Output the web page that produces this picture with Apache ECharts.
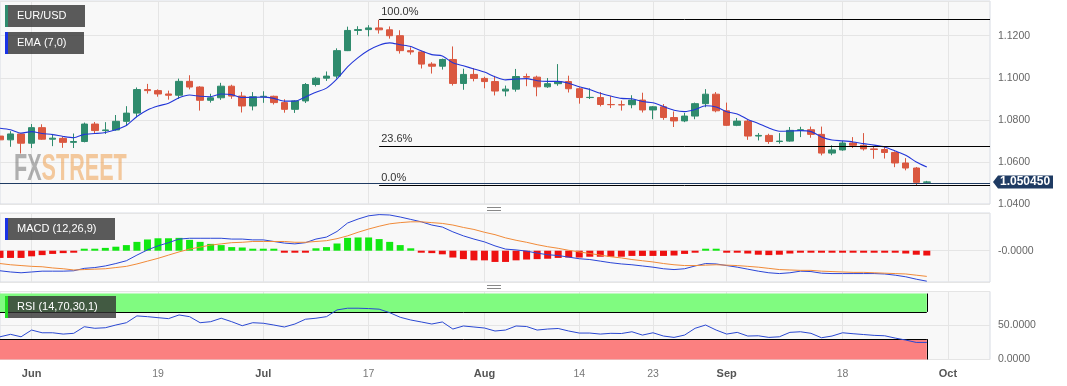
<!DOCTYPE html>
<html><head><meta charset="utf-8">
<script src="https://cdn.jsdelivr.net/npm/echarts@6.0.0/dist/echarts.min.js"></script>
<style>html,body{margin:0;padding:0;background:#fff;}#c{width:1067px;height:386px;}</style>
</head><body><div id="c"></div>
<script>
// ---- data ----
const categories = ['05-29','05-30','05-31','06-01','06-02','06-05','06-06','06-07','06-08','06-09','06-12','06-13','06-14','06-15','06-16','06-19','06-20','06-21','06-22','06-23','06-26','06-27','06-28','06-29','06-30','07-03','07-04','07-05','07-06','07-07','07-10','07-11','07-12','07-13','07-14','07-17','07-18','07-19','07-20','07-21','07-24','07-25','07-26','07-27','07-28','07-31','08-01','08-02','08-03','08-04','08-07','08-08','08-09','08-10','08-11','08-14','08-15','08-16','08-17','08-18','08-21','08-22','08-23','08-24','08-25','08-28','08-29','08-30','08-31','09-01','09-04','09-05','09-06','09-07','09-08','09-11','09-12','09-13','09-14','09-15','09-18','09-19','09-20','09-21','09-22','09-25','09-26','09-27','09-28','09-29','10-02','10-03','10-04','10-05','10-06'];
const tickDates = ['06-01','06-19','07-03','07-17','08-01','08-14','08-23','09-01','09-18','10-02'];
const tickLabels = ['Jun','19','Jul','17','Aug','14','23','Sep','18','Oct'];

const opens = [1.0723,1.0705,1.0733,1.0689,1.0763,1.0708,1.0712,1.0693,1.0697,1.0780,
1.0749,1.0752,1.0793,1.0832,1.0944,1.0939,1.0923,1.0917,1.0983,1.0956,
1.0893,1.0905,1.0960,1.0913,1.0866,1.0910,1.0912,1.0882,1.0850,1.0890,
1.0968,1.0998,1.1008,1.1129,1.1225,1.1229,1.1237,1.1228,1.1200,1.1129,
1.1123,1.1065,1.1055,1.1087,1.0973,1.1016,1.0997,1.0982,1.0937,1.0946,
1.1006,1.1003,1.0957,1.0972,1.0982,1.0948,1.0906,1.0906,1.0873,1.0872,
1.0872,1.0894,1.0847,1.0862,1.0811,1.0795,1.0818,1.0877,1.0922,1.0843,
1.0774,1.0794,1.0723,1.0726,1.0697,1.0699,1.0750,1.0753,1.0731,1.0642,
1.0657,1.0690,1.0679,1.0662,1.0659,1.0645,1.0595,1.0571,1.0503];
const closes = [1.0705,1.0733,1.0689,1.0763,1.0708,1.0713,1.0693,1.0697,1.0780,1.0749,
1.0752,1.0793,1.0832,1.0944,1.0939,1.0923,1.0917,1.0983,1.0956,1.0893,
1.0905,1.0960,1.0913,1.0866,1.0910,1.0912,1.0882,1.0850,1.0890,1.0968,
1.0998,1.1008,1.1129,1.1225,1.1229,1.1237,1.1228,1.1200,1.1129,1.1123,
1.1065,1.1055,1.1087,1.0973,1.1016,1.0997,1.0982,1.0937,1.0946,1.1006,
1.1003,1.0957,1.0972,1.0982,1.0948,1.0906,1.0907,1.0873,1.0872,1.0871,
1.0894,1.0847,1.0862,1.0811,1.0795,1.0818,1.0877,1.0922,1.0843,1.0774,
1.0794,1.0723,1.0726,1.0697,1.0699,1.0750,1.0753,1.0731,1.0642,1.0657,
1.0690,1.0679,1.0662,1.0659,1.0645,1.0595,1.0571,1.0503,1.0505];
const lows = [1.0703,1.0672,1.0640,1.0666,1.0705,1.0675,1.0667,1.0666,1.0693,1.0735,
1.0733,1.0749,1.0772,1.0812,1.0925,1.0910,1.0896,1.0900,1.0945,1.0844,
1.0882,1.0895,1.0900,1.0835,1.0845,1.0881,1.0873,1.0834,1.0833,1.0880,
1.0959,1.0985,1.0996,1.1127,1.1204,1.1197,1.1210,1.1186,1.1115,1.1110,
1.1044,1.1020,1.1039,1.0963,1.0943,1.0983,1.0950,1.0916,1.0912,1.0934,
1.0960,1.0912,1.0952,1.0962,1.0930,1.0877,1.0899,1.0864,1.0856,1.0844,
1.0855,1.0835,1.0803,1.0800,1.0766,1.0789,1.0803,1.0860,1.0836,1.0771,
1.0770,1.0705,1.0702,1.0686,1.0687,1.0696,1.0718,1.0715,1.0631,1.0632,
1.0653,1.0666,1.0654,1.0615,1.0616,1.0575,1.0560,1.0488,1.0496];
const highs = [1.0746,1.0746,1.0736,1.0780,1.0779,1.0733,1.0720,1.0735,1.0787,1.0790,
1.0789,1.0823,1.0865,1.0954,1.0971,1.0945,1.0939,1.0996,1.1012,1.0960,
1.0924,1.0976,1.0967,1.0933,1.0932,1.0936,1.0915,1.0898,1.0893,1.0975,
1.1004,1.1030,1.1140,1.1243,1.1245,1.1250,1.1276,1.1244,1.1226,1.1145,
1.1128,1.1074,1.1091,1.1149,1.1043,1.1046,1.1005,1.1009,1.0963,1.1042,
1.1020,1.1010,1.0999,1.1065,1.1010,1.0955,1.0950,1.0932,1.0913,1.0892,
1.0917,1.0929,1.0866,1.0875,1.0840,1.0833,1.0882,1.0946,1.0932,1.0882,
1.0809,1.0801,1.0737,1.0734,1.0737,1.0766,1.0767,1.0768,1.0768,1.0679,
1.0700,1.0718,1.0737,1.0673,1.0672,1.0650,1.0618,1.0576,1.0510];
const ema7 = [1.0760,1.0753,1.0737,1.0744,1.0735,1.0730,1.0721,1.0715,1.0731,1.0735,
1.0740,1.0753,1.0773,1.0816,1.0847,1.0866,1.0879,1.0905,1.0918,1.0912,
1.0910,1.0923,1.0920,1.0906,1.0907,1.0908,1.0902,1.0889,1.0889,1.0909,
1.0931,1.0951,1.0995,1.1052,1.1096,1.1131,1.1155,1.1166,1.1157,1.1149,
1.1128,1.1110,1.1104,1.1071,1.1057,1.1042,1.1027,1.1005,1.0990,1.0994,
1.0996,1.0986,1.0983,1.0983,1.0974,1.0957,1.0944,1.0926,1.0913,1.0902,
1.0900,1.0887,1.0881,1.0863,1.0846,1.0839,1.0849,1.0867,1.0861,1.0839,
1.0828,1.0802,1.0783,1.0761,1.0746,1.0747,1.0749,1.0744,1.0719,1.0704,
1.0700,1.0695,1.0687,1.0680,1.0671,1.0652,1.0632,1.0600,1.0576];
const macdLine = [-0.0050,-0.0053,-0.0055,-0.0053,-0.0051,-0.0051,-0.0051,-0.0050,-0.0044,-0.0042,
-0.0038,-0.0032,-0.0025,-0.0011,0.0002,0.0012,0.0020,0.0029,0.0031,0.0031,
0.0031,0.0031,0.0029,0.0029,0.0027,0.0027,0.0023,0.0019,0.0017,0.0020,
0.0029,0.0034,0.0048,0.0069,0.0079,0.0087,0.0090,0.0089,0.0084,0.0078,
0.0072,0.0064,0.0059,0.0047,0.0037,0.0029,0.0022,0.0012,0.0004,0.0002,
-0.0001,-0.0006,-0.0010,-0.0012,-0.0016,-0.0020,-0.0022,-0.0026,-0.0030,-0.0033,
-0.0035,-0.0038,-0.0041,-0.0045,-0.0047,-0.0045,-0.0038,-0.0032,-0.0033,-0.0037,
-0.0041,-0.0046,-0.0051,-0.0055,-0.0057,-0.0055,-0.0051,-0.0052,-0.0056,-0.0057,
-0.0057,-0.0057,-0.0057,-0.0057,-0.0058,-0.0061,-0.0065,-0.0071,-0.0076];
const signalLine = [-0.0032,-0.0035,-0.0037,-0.0039,-0.0040,-0.0043,-0.0045,-0.0048,-0.0047,-0.0046,
-0.0045,-0.0042,-0.0039,-0.0033,-0.0026,-0.0019,-0.0011,-0.0003,0.0004,0.0009,
0.0014,0.0017,0.0020,0.0021,0.0023,0.0023,0.0023,0.0023,0.0021,0.0021,
0.0023,0.0025,0.0030,0.0037,0.0046,0.0054,0.0061,0.0067,0.0070,0.0072,
0.0072,0.0070,0.0068,0.0064,0.0058,0.0053,0.0046,0.0040,0.0032,0.0026,
0.0021,0.0015,0.0010,0.0006,0.0001,-0.0003,-0.0007,-0.0011,-0.0015,-0.0018,
-0.0022,-0.0025,-0.0028,-0.0032,-0.0035,-0.0037,-0.0037,-0.0036,-0.0035,-0.0036,
-0.0037,-0.0039,-0.0041,-0.0044,-0.0047,-0.0048,-0.0049,-0.0049,-0.0051,-0.0052,
-0.0053,-0.0054,-0.0054,-0.0055,-0.0056,-0.0057,-0.0058,-0.0061,-0.0064];
const macdHist = [-0.0018,-0.0018,-0.0018,-0.0014,-0.0011,-0.0008,-0.0006,-0.0002,0.0003,0.0004,
0.0007,0.0010,0.0014,0.0022,0.0028,0.0031,0.0031,0.0032,0.0027,0.0022,
0.0017,0.0014,0.0009,0.0008,0.0004,0.0004,0.0001,-0.0004,-0.0004,-0.0001,
0.0006,0.0009,0.0018,0.0032,0.0033,0.0033,0.0029,0.0022,0.0014,0.0006,
-0.0001,-0.0006,-0.0009,-0.0017,-0.0021,-0.0024,-0.0024,-0.0028,-0.0028,-0.0024,
-0.0022,-0.0021,-0.0020,-0.0018,-0.0017,-0.0017,-0.0015,-0.0015,-0.0015,-0.0015,
-0.0013,-0.0013,-0.0013,-0.0013,-0.0012,-0.0008,-0.0001,0.0004,0.0002,-0.0001,
-0.0004,-0.0007,-0.0010,-0.0011,-0.0010,-0.0007,-0.0002,-0.0003,-0.0005,-0.0005,
-0.0004,-0.0003,-0.0003,-0.0002,-0.0002,-0.0004,-0.0007,-0.0010,-0.0012];
const rsi14 = [33.4,37.0,33.4,43.3,39.3,39.3,37.4,38.5,48.2,45.9,
46.7,50.7,54.1,64.1,63.0,61.5,60.1,65.5,63.0,54.1,
55.6,60.7,55.6,49.7,54.1,53.3,50.7,47.8,52.2,59.2,
60.7,63.0,72.9,75.4,75.4,74.9,74.0,68.9,62.1,58.1,
55.2,52.2,55.2,44.8,49.3,47.8,46.3,41.9,43.3,49.3,
48.5,43.3,44.8,45.6,41.9,38.9,38.9,37.4,38.5,38.2,
40.8,35.9,39.3,34.5,32.5,35.9,45.9,50.7,43.3,37.4,
39.9,34.5,34.9,32.5,33.4,39.9,40.8,38.5,32.0,34.5,
39.3,37.9,36.7,35.5,34.9,31.5,28.6,25.1,25.1];
const fibLabels = ['100.0%','23.6%','0.0%'];
const fibValues = [1.1276, 1.0674, 1.0488];
const fibStartDate = '07-18';
const lastPrice = 1.050450;
const rsiUpper = 70, rsiLower = 30;

// ---- chart ----
const GREEN = '#2f8b6d', RED = '#da5840';
const GRID_LINE = '#e5e5e5';
const lastIdx = closes.length - 1;
const chart = echarts.init(document.getElementById('c'));
const candleData = opens.map((o, i) => [o, closes[i], lows[i], highs[i]]);
const tickFn = (idx, val) => tickDates.indexOf(val) >= 0;
function xAxis(gi, labels) {
  return {
    type: 'category', gridIndex: gi, data: categories, boundaryGap: false,
    axisLine: {show: false}, axisTick: {show: false},
    axisLabel: labels ? {
      show: true, interval: tickFn, margin: 9, color: '#777', fontSize: 10.5,
      formatter: v => { const t = tickLabels[tickDates.indexOf(v)]; return isNaN(+t) ? '{b|' + t + '}' : t; },
      rich: {b: {fontWeight: 'bold', color: '#555', fontSize: 11}}
    } : {show: false},
    splitLine: {show: true, interval: tickFn, lineStyle: {color: GRID_LINE, width: 1}}
  };
}
const gridBase = {left: 0, right: 77, show: true, backgroundColor: '#f8f8f8', borderColor: '#d8dce4', borderWidth: 1};
const blackLine = {color: '#000', width: 1, type: 'solid'};
const yLabel = {color: '#666', fontSize: 10.5, margin: 8};

const option = {
  animation: false,
  textStyle: {fontFamily: 'Liberation Sans, Arial, sans-serif'},
  grid: [
    Object.assign({top: 1, height: 203}, gridBase),
    Object.assign({top: 213, height: 69}, gridBase),
    Object.assign({top: 291.5, height: 68}, gridBase)
  ],
  xAxis: [xAxis(0, false), xAxis(1, false), xAxis(2, true)],
  yAxis: [
    {type: 'value', gridIndex: 0, position: 'right', min: 1.04, max: 1.1365, interval: 0.02,
     axisLine: {show: false}, axisTick: {show: false},
     axisLabel: Object.assign({showMaxLabel: false, formatter: v => v.toFixed(4)}, yLabel),
     splitLine: {lineStyle: {color: GRID_LINE}}},
    {type: 'value', gridIndex: 1, position: 'right', min: -0.0078, max: 0.0094, splitNumber: 1,
     axisLine: {show: false}, axisTick: {show: false},
     axisLabel: Object.assign({formatter: v => Math.abs(v) < 1e-9 ? '-0.0000' : ''}, yLabel),
     splitLine: {lineStyle: {color: GRID_LINE}}},
    {type: 'value', gridIndex: 2, position: 'right', min: 0, max: 100, interval: 50,
     axisLine: {show: false}, axisTick: {show: false},
     axisLabel: Object.assign({showMaxLabel: false, formatter: v => v.toFixed(4)}, yLabel),
     splitLine: {lineStyle: {color: GRID_LINE}}}
  ],
  series: [
    {type: 'candlestick', name: 'EUR/USD', xAxisIndex: 0, yAxisIndex: 0, data: candleData, barWidth: 7,
     itemStyle: {color: GREEN, color0: RED, borderColor: GREEN, borderColor0: RED, borderWidth: 1},
     markLine: {silent: true, symbol: ['none', 'none'],
       data: fibValues.map((v, k) => [
         {coord: [fibStartDate, v], lineStyle: blackLine,
          label: {show: true, position: 'insideStartTop', formatter: fibLabels[k], color: '#333', fontSize: 11, distance: [2, 2]}},
         {coord: [categories[categories.length - 1], v]}
       ]).concat([{yAxis: lastPrice, lineStyle: {color: '#1f3b63', width: 1, type: 'solid'}, label: {show: false}}])
     }},
    {type: 'line', name: 'EMA', xAxisIndex: 0, yAxisIndex: 0, data: ema7, showSymbol: false, smooth: 0.25,
     lineStyle: {color: '#2236d8', width: 1.1}, z: 4},
    {type: 'bar', name: 'Hist', xAxisIndex: 1, yAxisIndex: 1, barWidth: 7, barMinHeight: 2,
     data: macdHist.map(v => ({value: v, itemStyle: {color: v >= 0 ? '#12e812' : '#ee1010'}}))},
    {type: 'line', name: 'MACD', xAxisIndex: 1, yAxisIndex: 1, data: macdLine, showSymbol: false,
     lineStyle: {color: '#2a45d6', width: 1}},
    {type: 'line', name: 'Signal', xAxisIndex: 1, yAxisIndex: 1, data: signalLine, showSymbol: false,
     lineStyle: {color: '#f08a38', width: 1}},
    {type: 'line', name: 'RSI', xAxisIndex: 2, yAxisIndex: 2, data: rsi14, showSymbol: false,
     lineStyle: {color: '#2a48d2', width: 1}, z: 5,
     markArea: {silent: true, data: [
       [{coord: [categories[0], rsiUpper], itemStyle: {color: '#80fb80', opacity: 1}}, {coord: [categories[lastIdx], 97]}],
       [{coord: [categories[0], 0], itemStyle: {color: '#fb8080', opacity: 1}}, {coord: [categories[lastIdx], rsiLower]}]
     ]},
     markLine: {silent: true, symbol: ['none', 'none'], lineStyle: blackLine, label: {show: false},
       data: [
         [{coord: [categories[0], rsiUpper]}, {coord: [categories[lastIdx], rsiUpper]}],
         [{coord: [categories[0], rsiLower]}, {coord: [categories[lastIdx], rsiLower]}],
         [{coord: [categories[lastIdx], rsiUpper]}, {coord: [categories[lastIdx], 97]}],
         [{coord: [categories[lastIdx], 0]}, {coord: [categories[lastIdx], rsiLower]}]
       ]}}
  ]
};
chart.setOption(option);

function legendBox(x, y, w, stripe, text) {
  return {type: 'group', z: 100, children: [
    {type: 'rect', z: 100, shape: {x: x, y: y, width: w, height: 22}, style: {fill: 'rgba(50,50,50,0.8)'}},
    {type: 'rect', z: 101, shape: {x: x, y: y, width: 3, height: 22}, style: {fill: stripe}},
    {type: 'text', z: 102, x: x + 12, y: y + 11, style: {text: text, fill: '#fff', fontSize: 11, fontFamily: 'Liberation Sans, Arial', verticalAlign: 'middle'}}
  ]};
}
const py = chart.convertToPixel({yAxisIndex: 0}, lastPrice);
const gx = chart.convertToPixel({xAxisIndex: 0}, categories[categories.length - 1]);
chart.setOption({graphic: [
  {type: 'text', left: 14, top: 152, z: 1, scaleX: 0.6,
   style: {text: '{a|FX}{b|STREET}', rich: {
     a: {fill: 'rgba(115,115,115,0.55)', fontSize: 36, fontWeight: 'bold', fontFamily: 'Liberation Sans'},
     b: {fill: 'rgba(238,160,80,0.55)', fontSize: 36, fontWeight: 'bold', fontFamily: 'Liberation Sans'}}}},
  legendBox(5, 5, 80, '#2f8b6d', 'EUR/USD'),
  legendBox(5, 32, 79, '#1a33e6', 'EMA (7,0)'),
  legendBox(5, 218, 110, '#1a33e6', 'MACD (12,26,9)'),
  legendBox(5, 296, 111, '#22dd22', 'RSI (14,70,30,1)'),
  {type: 'group', z: 100, children: [
    {type: 'line', z: 100, shape: {x1: 487, y1: 207.5, x2: 501, y2: 207.5}, style: {stroke: '#888', lineWidth: 1}},
    {type: 'line', z: 100, shape: {x1: 487, y1: 210.5, x2: 501, y2: 210.5}, style: {stroke: '#888', lineWidth: 1}},
    {type: 'line', z: 100, shape: {x1: 487, y1: 285.5, x2: 501, y2: 285.5}, style: {stroke: '#888', lineWidth: 1}},
    {type: 'line', z: 100, shape: {x1: 487, y1: 288.5, x2: 501, y2: 288.5}, style: {stroke: '#888', lineWidth: 1}}
  ]},
  {type: 'group', z: 100, children: [
    {type: 'polygon', z: 100, shape: {points: [[gx + 3, py], [gx + 8, py - 6.5], [gx + 63, py - 6.5], [gx + 63, py + 6.5], [gx + 8, py + 6.5]]},
     style: {fill: '#1f3b63'}},
    {type: 'text', z: 101, x: gx + 10, y: py, style: {text: lastPrice.toFixed(6), fill: '#fff', fontSize: 12, fontWeight: 'bold', fontFamily: 'Liberation Sans, Arial', verticalAlign: 'middle'}}
  ]}
]});
</script></body></html>
